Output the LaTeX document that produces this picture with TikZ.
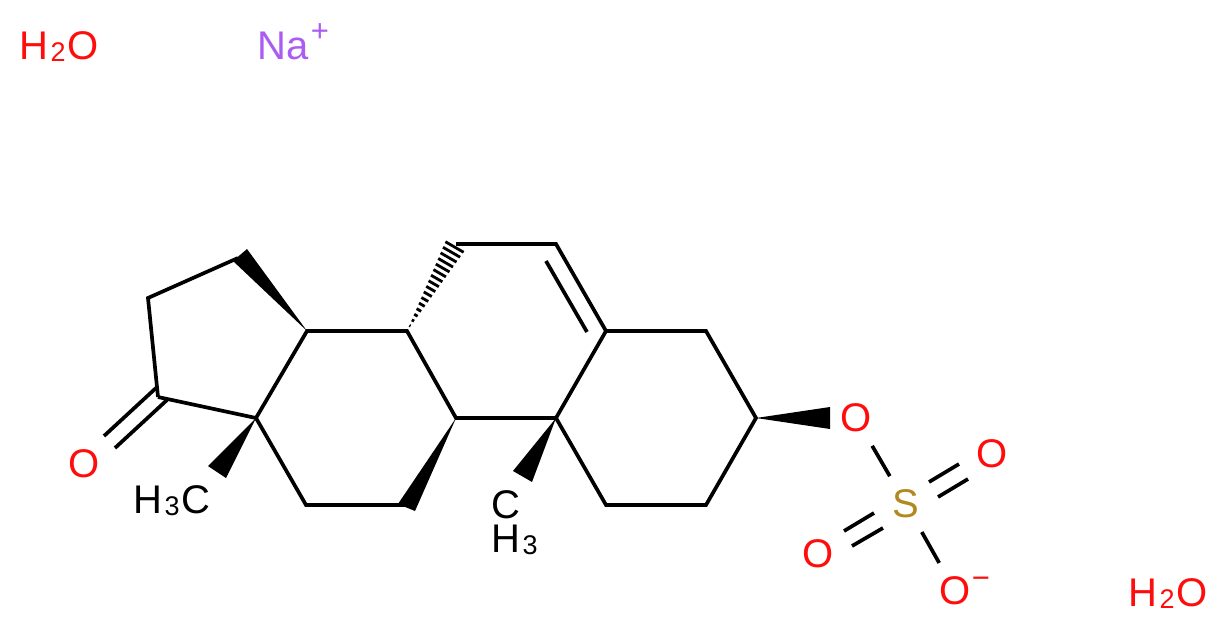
\documentclass[tikz,border=0pt]{standalone}
\usepackage{fontspec}
\setmainfont{Liberation Sans}
\usetikzlibrary{calc}

\definecolor{OxyRed}{HTML}{FF0D0D}
\definecolor{SulfurGold}{HTML}{B2891E}
\definecolor{SodiumPurple}{HTML}{AB5CF2}

\newcommand{\lowidx}[1]{\kern2.5pt\raisebox{-2pt}{\fontsize{27}{27}\selectfont #1}\kern2pt}

\tikzset{
  bond/.style={line width=3.7pt,black,line join=miter},
  hashbond/.style={line width=2.8pt,black},
  label/.style={inner sep=0pt,anchor=base west,font=\fontsize{40}{40}\selectfont},
  charge/.style={inner sep=0pt,font=\fontsize{31}{31}\selectfont},
  atom/.style={circle,inner sep=0pt,minimum size=64pt,font=\fontsize{40}{40}\selectfont}
}

\begin{document}
\begin{tikzpicture}[x=1pt,y=-1pt]
\useasboundingbox (0,0) rectangle (1228,631);

% Ring atoms
\coordinate (C1) at (606,505);
\coordinate (C2) at (706,505);
\coordinate (C3) at (756,418);
\coordinate (C4) at (706,331);
\coordinate (C5) at (606,331);
\coordinate (C6) at (556,244);
\coordinate (C7) at (456,244);
\coordinate (C8) at (407,331);
\coordinate (C9) at (456,418);
\coordinate (C10) at (556,418);
\coordinate (C11) at (406,505);
\coordinate (C12) at (306,505);
\coordinate (C13) at (256,418);
\coordinate (C14) at (307,331);
\coordinate (C15) at (238,258);
\coordinate (C16) at (148,298);
\coordinate (C17) at (158,397);

% Plain bonds
\draw[bond] (C17) -- (C16) -- (C15);
\draw[bond] (C17) -- (C13) -- (C14) -- (C8) -- (C9) -- (C10) -- (C5);
\draw[bond] (C13) -- (C12) -- (C11);
\draw[bond] (C10) -- (C1) -- (C2) -- (C3) -- (C4) -- (C5) -- (C6) -- (C7);

% Inner line of the ring double bond
\coordinate (D1) at (546,261);
\coordinate (D2) at (587,332);
\draw[bond] (D1) -- (D2);

% Wedges
\coordinate (W1a) at (247,249);
\coordinate (W1b) at (233,261);
\coordinate (W2a) at (208,466);
\coordinate (W2b) at (226,478);
\coordinate (W3a) at (398,504);
\coordinate (W3b) at (415,511);
\coordinate (W4a) at (513,471);
\coordinate (W4b) at (532,482);
\coordinate (W5a) at (830,407);
\coordinate (W5b) at (830,429);
\fill (C14) -- (W1a) -- (W1b) -- cycle;
\fill (C13) -- (W2a) -- (W2b) -- cycle;
\fill (C9) -- (W3a) -- (W3b) -- cycle;
\fill (C10) -- (W4a) -- (W4b) -- cycle;
\fill (C3) -- (W5a) -- (W5b) -- cycle;

% Hashed bond
\coordinate (H1) at (447,238);
\coordinate (H2) at (466,249);
\foreach \t in {0.06,0.12,...,1.0}
{
     \draw[hashbond] ($(C8)!\t!(H1)$) -- ($(C8)!\t!(H2)$);
}

% Ketone
\node[atom,text=OxyRed] (O17) at (84,464) {O};
\coordinate (K1a) at (156,388);
\coordinate (K1b) at (104,436);
\coordinate (K2a) at (167,400);
\coordinate (K2b) at (115,448);
\draw[bond] (K1a) -- (K1b);
\draw[bond] (K2a) -- (K2b);

% Sulfate
\node[atom,text=OxyRed] (O3) at (856,418) {O};
\node[atom,text=SulfurGold] (S) at (906,504) {S};
\node[atom,text=OxyRed] (Oa) at (992,454) {O};
\node[atom,text=OxyRed] (Ob) at (818,554) {O};
\node[atom,text=OxyRed] (Oc) at (955,591) {O};
\node[charge,text=OxyRed] (minus) at (981,583) {−};
\draw[bond] (O3) -- (S);
\draw[bond] (S) -- (Oc);
\coordinate (Sa1) at (929,482);
\coordinate (Sa2) at (959,464);
\coordinate (Sa3) at (938,497);
\coordinate (Sa4) at (968,479);
\coordinate (Sb1) at (874,513);
\coordinate (Sb2) at (844,531);
\coordinate (Sb3) at (883,528);
\coordinate (Sb4) at (852,546);
\draw[bond] (Sa1) -- (Sa2);
\draw[bond] (Sa3) -- (Sa4);
\draw[bond] (Sb1) -- (Sb2);
\draw[bond] (Sb3) -- (Sb4);

% Methyl labels
\node[label] (Me13) at (133,513) {H\lowidx{3}C};
\node[label] (Me10c) at (491,518) {C};
\node[label] (Me10h) at (491,552) {H\lowidx{3}};

% Water and sodium
\node[label,text=OxyRed] (Wat1) at (19,60) {H\lowidx{2}O};
\node[label,text=OxyRed] (Wat2) at (1128,606) {H\lowidx{2}O};
\node[label,text=SodiumPurple] (Na) at (257,60) {Na};
\node[charge,text=SodiumPurple] (plus) at (320,33) {+};

\end{tikzpicture}
\end{document}
